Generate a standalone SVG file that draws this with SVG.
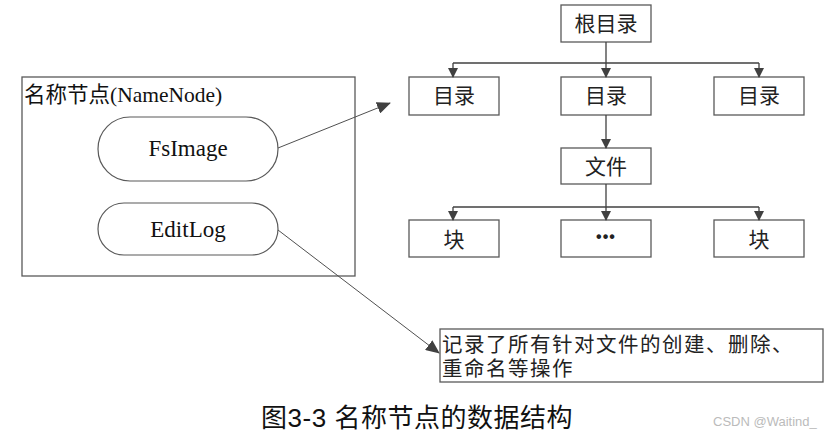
<svg xmlns="http://www.w3.org/2000/svg" width="837" height="434" viewBox="0 0 837 434">
<style>
.box{fill:#fff;stroke:#595959;stroke-width:1.3}
.pill{fill:#fff;stroke:#595959;stroke-width:1.2}
.cjk{font-family:"Noto Sans CJK SC","Liberation Sans",sans-serif;fill:#222}
.ser{font-family:"Liberation Serif","Noto Sans CJK SC",serif;fill:#111}
.ln{stroke:#404040;stroke-width:1.3;fill:none}
.thin{stroke:#505050;stroke-width:1;fill:none}
</style>
<defs>
<marker id="ah" markerWidth="10" markerHeight="10" refX="9" refY="5" orient="auto" markerUnits="userSpaceOnUse">
<path d="M0,0 L10,5 L0,10 z" fill="#404040"/>
</marker>
<marker id="ah2" markerWidth="14" markerHeight="12" refX="13" refY="6" orient="auto" markerUnits="userSpaceOnUse">
<path d="M0,0 L14,6 L0,12 z" fill="#404040"/>
</marker>
</defs>
<rect width="837" height="434" fill="#fff"/>

<g id="namenode">
<rect class="box" x="22" y="77" width="333" height="199"/>
<text class="ser" x="24" y="102" font-size="21.5">名称节点(NameNode)</text>
</g>
<g id="fsimage">
<rect class="pill" x="98" y="117" width="180" height="64" rx="32" ry="32"/>
<text class="ser" x="188" y="155.5" font-size="23" text-anchor="middle">FsImage</text>
</g>
<g id="editlog">
<rect class="pill" x="98" y="203" width="180" height="52" rx="26" ry="26"/>
<text class="ser" x="188" y="237" font-size="23" text-anchor="middle">EditLog</text>
</g>

<g id="root"><rect class="box" x="561" y="5" width="90" height="37"/><text class="cjk" x="606" y="31" font-size="21" text-anchor="middle">根目录</text></g>
<g id="dir1"><rect class="box" x="409" y="77" width="90" height="38"/><text class="cjk" x="454" y="103" font-size="21" text-anchor="middle">目录</text></g>
<g id="dir2"><rect class="box" x="561" y="77" width="90" height="38"/><text class="cjk" x="606" y="103" font-size="21" text-anchor="middle">目录</text></g>
<g id="dir3"><rect class="box" x="714" y="77" width="90" height="38"/><text class="cjk" x="759" y="103" font-size="21" text-anchor="middle">目录</text></g>
<g id="file"><rect class="box" x="561" y="148" width="90" height="36"/><text class="cjk" x="606" y="174" font-size="21" text-anchor="middle">文件</text></g>
<g id="block1"><rect class="box" x="409" y="220" width="90" height="37"/><text class="cjk" x="454" y="247" font-size="21" text-anchor="middle">块</text></g>
<g id="block2"><rect class="box" x="561" y="220" width="90" height="37"/><text x="606" y="242" font-size="16" font-weight="bold" letter-spacing="1" text-anchor="middle" font-family="'Liberation Sans',sans-serif" fill="#222">•••</text></g>
<g id="block3"><rect class="box" x="714" y="220" width="90" height="37"/><text class="cjk" x="759" y="247" font-size="21" text-anchor="middle">块</text></g>

<g id="note">
<rect class="box" x="440" y="329" width="383" height="53"/>
<text class="cjk" font-size="20.5" letter-spacing="1.5"><tspan x="442" y="352">记录了所有针对文件的创建、删除、</tspan><tspan x="442" y="376">重命名等操作</tspan></text>
</g>

<g id="connectors">
<path class="ln" d="M606,42 V63"/>
<path class="ln" d="M453,63 H759"/>
<path class="ln" d="M453,63 V77" marker-end="url(#ah)"/>
<path class="ln" d="M606,63 V77" marker-end="url(#ah)"/>
<path class="ln" d="M759,63 V77" marker-end="url(#ah)"/>
<path class="ln" d="M606,115 V148" marker-end="url(#ah)"/>
<path class="ln" d="M606,184 V207"/>
<path class="ln" d="M453,207 H759"/>
<path class="ln" d="M453,207 V220" marker-end="url(#ah)"/>
<path class="ln" d="M606,207 V220" marker-end="url(#ah)"/>
<path class="ln" d="M759,207 V220" marker-end="url(#ah)"/>
<path class="thin" d="M278,148 L390,103" marker-end="url(#ah2)"/>
<path class="thin" d="M278,230 L439,353" marker-end="url(#ah2)"/>
</g>

<g id="caption">
<text x="417" y="427" font-size="26" letter-spacing="0.5" text-anchor="middle" font-family="'Liberation Sans','Noto Sans CJK SC',sans-serif" fill="#111">图3-3 名称节点的数据结构</text>
<text x="713" y="426" font-size="13" font-family="'Liberation Sans',sans-serif" fill="#bbb">CSDN @Waitind_</text>
</g>
</svg>
